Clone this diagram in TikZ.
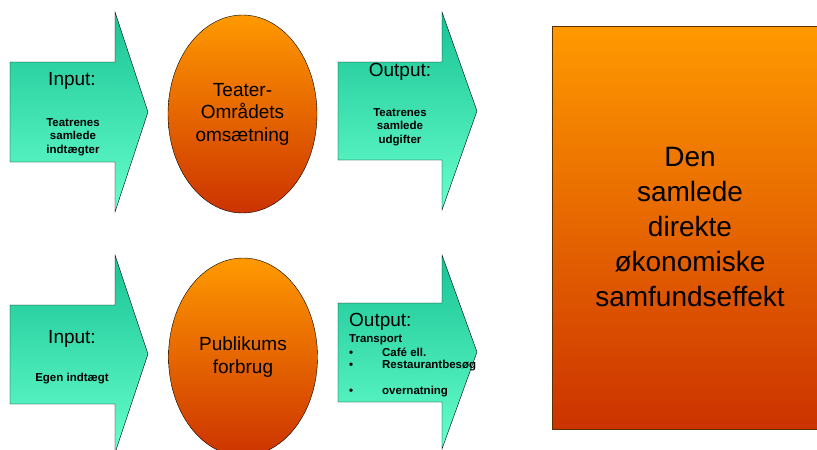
\documentclass[tikz,border=0pt]{standalone}
\usepackage{fontspec}
\setmainfont{Liberation Sans}
\usepackage{xcolor}
\usetikzlibrary{shapes.geometric,positioning}

\definecolor{greentop}{RGB}{25,195,148}
\definecolor{greenbot}{RGB}{102,255,204}
\definecolor{orangetop}{RGB}{255,153,0}
\definecolor{orangebot}{RGB}{204,51,0}
\definecolor{rectborder}{RGB}{90,50,0}

\tikzstyle{arrowshape}=[draw=black, top color=greentop, bottom color=greenbot]
\tikzstyle{oval}=[draw=black, ellipse, top color=orangetop, bottom color=orangebot, minimum width=149pt, minimum height=198pt, inner sep=0pt]
\tikzstyle{bigtext}=[font=\fontsize{19}{22.5}\selectfont, align=center]
\tikzstyle{smalltext}=[font=\bfseries\fontsize{11.5}{13.5}\selectfont, align=center, inner sep=0pt]

\begin{document}
\begin{tikzpicture}[x=1pt,y=-1pt]
    \useasboundingbox (0,0) rectangle (817,450);

    % green arrows
    \shade[arrowshape] (10,62) -- (115,62) -- (115,12) -- (148,112) -- (115,212) -- (115,162) -- (10,162) -- cycle;
    \shade[arrowshape] (338,62) -- (442,62) -- (442,12) -- (477,111) -- (442,210) -- (442,160) -- (338,160) -- cycle;
    \shade[arrowshape] (10,305) -- (115,305) -- (115,255) -- (148,354) -- (115,453) -- (115,404) -- (10,404) -- cycle;
    \shade[arrowshape] (338,303) -- (442,303) -- (442,255) -- (477,352) -- (442,449) -- (442,402) -- (338,402) -- cycle;

    % ovals
    \node[oval, bigtext] (teater) at (242.5,114) {Teater-\\Områdets\\omsætning};
    \node[oval, bigtext] (publikum) at (243,357) {Publikums\\forbrug};

    % big box
    \node[draw=rectborder, top color=orangetop, bottom color=orangebot, minimum width=276pt, minimum height=403pt,
          font=\fontsize{28}{35}\selectfont, align=center] (effekt) at (690,227.5)
          {Den\\samlede\\direkte\\økonomiske\\samfundseffekt};

    % arrow texts
    \node[bigtext, anchor=base] (input1) at (72,85) {Input:};
    \node[smalltext] (input1txt) at (73,137) {Teatrenes\\samlede\\indtægter};
    \node[bigtext, anchor=base] (output1) at (400,76) {Output:};
    \node[smalltext] (output1txt) at (400,127) {Teatrenes\\samlede\\udgifter};
    \node[bigtext, anchor=base] (input2) at (72,343) {Input:};
    \node[smalltext, anchor=base] (input2txt) at (72,381) {Egen indtægt};

    \node[bigtext, anchor=base west, inner sep=0pt] (output2) at (349,326) {Output:};
    \node[smalltext, anchor=base west] (transport) at (349,342) {Transport};
    \node[smalltext, anchor=base west] (cafe) at (349,356) {\makebox[33pt][l]{•}Café ell.};
    \node[smalltext, anchor=base west] (restaurant) at (349,368) {\makebox[33pt][l]{•}Restaurantbesøg};
    \node[smalltext, anchor=base west] (overnat) at (349,394) {\makebox[33pt][l]{•}overnatning};
\end{tikzpicture}
\end{document}
